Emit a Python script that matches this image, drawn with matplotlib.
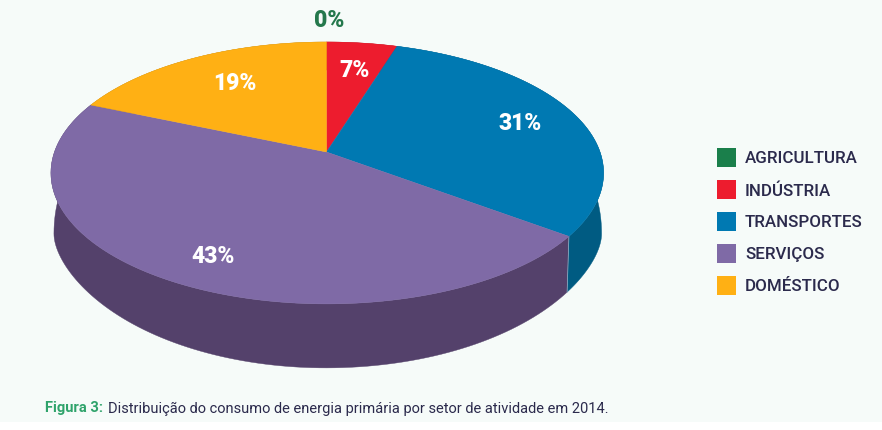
import matplotlib
matplotlib.use('Agg')
import matplotlib.pyplot as plt
from matplotlib.patches import Polygon, Rectangle
import numpy as np

# sectors, printed labels, and the shares as actually drawn in the picture
sectors = ['AGRICULTURA', 'INDÚSTRIA', 'TRANSPORTES', 'SERVIÇOS', 'DOMÉSTICO']
labels = ['0%', '7%', '31%', '43%', '19%']
drawn_share = [0, 4.8, 30.4, 46.2, 18.6]
colors = ['#1A7F4B', '#ED1C2E', '#0079B2', '#7F6AA6', '#FFB014']
side_colors = ['#125A35', '#A81420', '#005B82', '#54416B', '#B57D0E']
label_colors = ['#24784C', 'white', 'white', 'white', 'white']
label_xy = [(329, 20.7), (355, 70.5), (520, 124), (213, 257), (235, 84)]

BG = '#F6FBF9'
INK = '#2B2A4C'
FONT = 'Roboto'

# perspective of the disc: apex is not the middle of the ellipse
CX, CY = 326.5, 153
A, B_LEFT, B_RIGHT, K = 127.6, 272.0, 273.5, 0.16


def top_point(theta):
    u, v = np.sin(theta), np.cos(theta)
    w = 1 + K * v
    b = B_LEFT if u < 0 else B_RIGHT
    return CX + b * u / w, CY - A * v / w


def rim_point(theta):
    # same point on the lower rim, walls stay vertical a bit longer at the sides
    x, y = top_point(theta)
    ex = (x - 327.5) / 276.5
    ey = (y - 174) / 131
    rx = 275 if ex > 0 else 273
    return 327 + ex * rx, 220 + (ey + 0.1 * (1 - abs(ey)) ** 4) * 149


def main():
    fig = plt.figure(figsize=(8.82, 4.31), dpi=100, facecolor='white')
    ax = fig.add_axes([0, 0, 1, 1])
    ax.set_xlim(0, 882)
    ax.set_ylim(431, 0)
    ax.axis('off')
    ax.add_patch(Rectangle((0, 0), 882, 423, color=BG, lw=0, zorder=0))

    edges = np.radians(np.cumsum([0] + drawn_share) * 3.6)

    # side wall first, the top covers whatever sticks out at the back
    for i in range(len(sectors)):
        t = np.linspace(edges[i], edges[i + 1], 120)
        if drawn_share[i] == 0:
            continue
        up = [top_point(a) for a in t]
        low = [rim_point(a) for a in t[::-1]]
        ax.add_patch(Polygon(up + low, closed=True, fc=side_colors[i], ec=side_colors[i], lw=0.3, zorder=2))

    # pale seam on the wall between transportes and serviços
    a, b = top_point(edges[3]), rim_point(edges[3])
    ax.plot([a[0], b[0]], [a[1], b[1]], color='#8FBBD0', lw=0.5, zorder=2.5)

    for i in range(len(sectors)):
        if drawn_share[i] == 0:
            continue
        t = np.linspace(edges[i], edges[i + 1], 200)
        pts = [(CX, CY)] + [top_point(a) for a in t]
        ax.add_patch(Polygon(pts, closed=True, fc=colors[i], ec=colors[i], lw=0.3, zorder=3))

    for lab, xy, col in zip(labels, label_xy, label_colors):
        ax.text(xy[0], xy[1], lab, color=col, fontsize=16.5, fontweight='black', family=FONT,
                ha='center', va='center', zorder=5)

    for i, name in enumerate(sectors):
        y = 158 + 32 * i
        ax.add_patch(Rectangle((717, y - 9), 19, 19, fc=colors[i], lw=0, zorder=3))
        ax.text(745, y + 1, name, color=INK, fontsize=12.2, fontweight='medium', family=FONT,
                ha='left', va='center', zorder=5)

    ax.text(45, 408.5, 'Figura 3:', color='#2FA36B', fontsize=10.5, fontweight='bold', family=FONT,
            ha='left', va='center', zorder=5)
    ax.text(108, 408.5, 'Distribuição do consumo de energia primária por setor de atividade em 2014.',
            color=INK, fontsize=10.55, family=FONT, ha='left', va='center', zorder=5)

    fig.savefig('out.png', dpi=100, facecolor='white')


if __name__ == '__main__':
    main()
